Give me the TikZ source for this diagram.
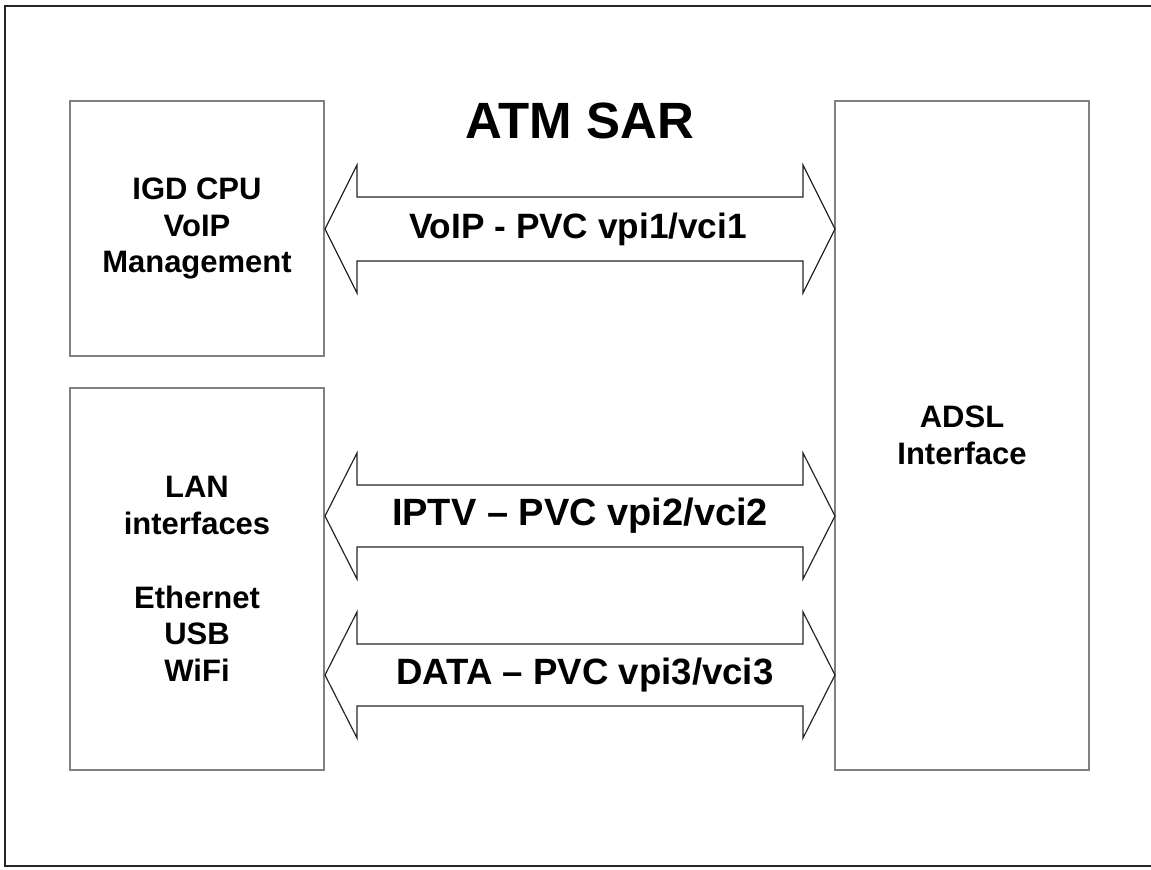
\documentclass[tikz,border=0pt]{standalone}
\usepackage{fontspec}
\setmainfont{Liberation Sans}
\usetikzlibrary{positioning}

\tikzset{
	block/.style={draw=black!50, line width=1pt, minimum width=127pt, align=center,
		font=\fontsize{15.5}{18.3}\selectfont\bfseries},
	pipe/.style={draw=black!85, line width=0.6pt, line join=miter},
	pipelabel/.style={font=\fontsize{#1}{21}\selectfont\bfseries}
}

\begin{document}
\begin{tikzpicture}[x=0.5pt, y=-0.5pt]
	\useasboundingbox (0,0) rectangle (1151,869);
	
	% Frame (open on the right side)
	\draw[line width=1pt, black!85] (1152,6) -- (5,6) -- (5,866) -- (1152,866);
	
	% Blocks
	\node[block, minimum height=127.5pt] (cpu) at (197,228.5) {IGD CPU\\VoIP\\Management};
	\node[block, minimum height=191pt] (lan) at (197,579) {LAN\\interfaces\\[18.5pt]Ethernet\\USB\\WiFi};
	\node[block, minimum height=334.5pt] (adsl) at (962,435.5) {ADSL\\Interface};
	
	\node[font=\fontsize{25.5}{29}\selectfont\bfseries] (title) at (580,121) {ATM SAR};
	
	% Virtual circuits
	\draw[pipe] (325,229) -- ++(32,-64) -- ++(0,32) -- ++(446,0) -- ++(0,-32) -- ++(32,64)
		-- ++(-32,64) -- ++(0,-32) -- ++(-446,0) -- ++(0,32) -- cycle;
	\node[pipelabel=17.6] (voip) at (578,229) {VoIP - PVC vpi1/vci1};
	
	\draw[pipe] (325,516) -- ++(32,-63) -- ++(0,32) -- ++(446,0) -- ++(0,-32) -- ++(32,63)
		-- ++(-32,63) -- ++(0,-32) -- ++(-446,0) -- ++(0,32) -- cycle;
	\node[pipelabel=19] (iptv) at (580,516) {IPTV -- PVC vpi2/vci2};
	
	\draw[pipe] (325,675) -- ++(32,-63) -- ++(0,32) -- ++(446,0) -- ++(0,-32) -- ++(32,63)
		-- ++(-32,63) -- ++(0,-32) -- ++(-446,0) -- ++(0,32) -- cycle;
	\node[pipelabel=18.3] (data) at (585,675) {DATA -- PVC vpi3/vci3};
\end{tikzpicture}
\end{document}
